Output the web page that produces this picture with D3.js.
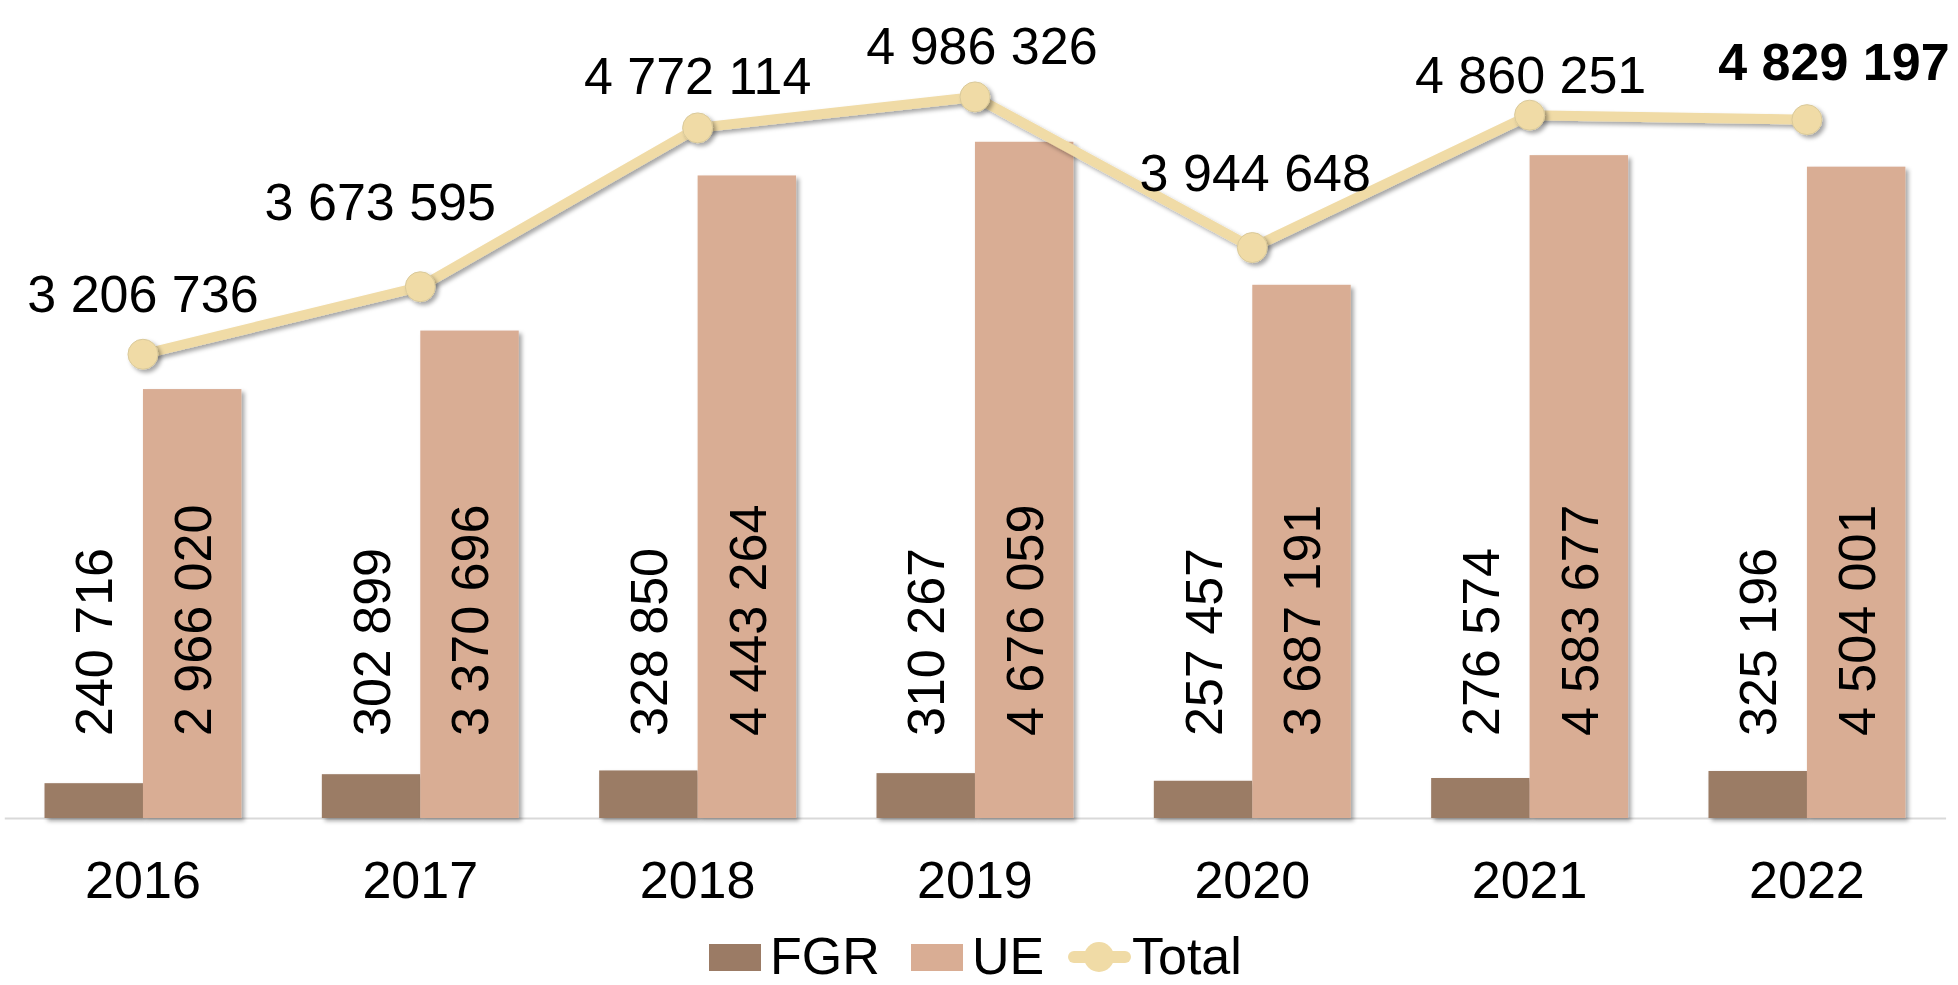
<!DOCTYPE html>
<html><head><meta charset="utf-8">
<script src="https://cdn.jsdelivr.net/npm/d3@7"></script>
<style>
html,body{margin:0;padding:0;background:#fff;}
svg{display:block;font-family:"Liberation Sans",Arial,sans-serif;}
</style>
</head><body>
<svg id="chart" width="1958" height="985"></svg>
<script>
// ---- data ----
const years = ["2016", "2017", "2018", "2019", "2020", "2021", "2022"];
const fgrValues = [240716, 302899, 328850, 310267, 257457, 276574, 325196];
const ueValues = [2966020, 3370696, 4443264, 4676059, 3687191, 4583677, 4504001];
const totalValues = [3206736, 3673595, 4772114, 4986326, 3944648, 4860251, 4829197];
const barSeries = ["FGR", "UE"];
const legendLabels = ["FGR", "UE", "Total"];

// ---- layout / styles ----
const colFGR = "#9b7b65", colUE = "#d9ad94", colTotal = "#f0dba6";
const fontSize = 52;
// manual nudges of the Total data labels (dx, gap above marker), as placed in the original
const totalLabelNudge = [[0, 42], [-40, 67], [0, 34], [7, 33], [3, 57], [1, 22], [27, 40]];

const svg = d3.select("#chart");
const defs = svg.append("defs");
const f = defs.append("filter").attr("id", "sh").attr("x", "-20%").attr("y", "-20%").attr("width", "150%").attr("height", "150%");
f.append("feDropShadow").attr("dx", 3).attr("dy", 3).attr("stdDeviation", 2).attr("flood-color", "#000").attr("flood-opacity", 0.35);

const fmt = d3.formatLocale({decimal: ",", thousands: " ", grouping: [3], currency: ["", ""]}).format(",d");

const baseY = 818;
const x = d3.scaleBand().domain(years).range([4.3, 1945.6]).paddingInner(0.29).paddingOuter(0.145);
const xs = d3.scaleBand().domain(barSeries).range([0, x.bandwidth()]);
const y = d3.scaleLinear().domain([0, 5500000]).range([baseY, baseY - 5500000 / 6915]);

const rows = years.map((yr, i) => ({year: yr, FGR: fgrValues[i], UE: ueValues[i], Total: totalValues[i]}));
const colorOf = {FGR: colFGR, UE: colUE};

// axis
const axis = svg.append("g").attr("transform", `translate(0,${baseY})`)
  .call(d3.axisBottom(x).tickSize(0).tickSizeOuter(0).tickPadding(43));
axis.select(".domain").attr("stroke", "#d9d9d9").attr("stroke-width", 2);
axis.selectAll(".tick text").attr("font-size", fontSize).attr("fill", "#000")
  .attr("font-family", '"Liberation Sans",Arial,sans-serif');

// bars
const groups = svg.append("g").selectAll("g").data(rows).join("g")
  .attr("transform", d => `translate(${x(d.year)},0)`);
groups.selectAll("rect").data(d => barSeries.map(k => ({key: k, value: d[k]}))).join("rect")
  .attr("x", d => xs(d.key))
  .attr("width", xs.bandwidth())
  .attr("y", d => y(d.value))
  .attr("height", d => y(0) - y(d.value))
  .attr("fill", d => colorOf[d.key])
  .attr("filter", "url(#sh)");

// rotated bar labels
groups.selectAll("text").data(d => barSeries.map(k => ({key: k, value: d[k]}))).join("text")
  .attr("transform", d => `translate(${xs(d.key) + xs.bandwidth() / 2},736) rotate(-90)`)
  .attr("dy", "0.36em")
  .attr("text-anchor", "start")
  .attr("font-size", fontSize)
  .attr("fill", "#000")
  .text(d => fmt(d.value));

// total line
const cx = d => x(d.year) + x.bandwidth() / 2;
const line = d3.line().x(cx).y(d => y(d.Total));
svg.append("path").datum(rows).attr("d", line)
  .attr("fill", "none").attr("stroke", colTotal).attr("stroke-width", 10)
  .attr("stroke-linejoin", "round").attr("filter", "url(#sh)");
svg.append("g").selectAll("circle").data(rows).join("circle")
  .attr("cx", cx).attr("cy", d => y(d.Total)).attr("r", 15)
  .attr("fill", colTotal).attr("stroke", "#d9c99a").attr("stroke-width", 1)
  .attr("filter", "url(#sh)");
svg.append("g").selectAll("text").data(rows).join("text")
  .attr("x", (d, i) => cx(d) + totalLabelNudge[i][0])
  .attr("y", (d, i) => y(d.Total) - totalLabelNudge[i][1])
  .attr("text-anchor", "middle")
  .attr("font-size", fontSize)
  .attr("font-weight", (d, i) => i === rows.length - 1 ? "bold" : "normal")
  .attr("fill", "#000")
  .text(d => fmt(d.Total));

// legend
const lg = svg.append("g");
const legendX = [709, 911, 1068];
const legY = 974;
legendLabels.forEach((name, i) => {
  const lx = legendX[i];
  if (name === "Total") {
    lg.append("line").attr("x1", lx + 6).attr("x2", lx + 57).attr("y1", legY - 17).attr("y2", legY - 17)
      .attr("stroke", colTotal).attr("stroke-width", 12).attr("stroke-linecap", "round");
    lg.append("circle").attr("cx", lx + 31).attr("cy", legY - 17).attr("r", 15).attr("fill", colTotal);
    lg.append("text").attr("x", lx + 64).attr("y", legY).attr("font-size", fontSize).text(name);
  } else {
    lg.append("rect").attr("x", lx).attr("y", legY - 30).attr("width", 52).attr("height", 27)
      .attr("fill", colorOf[name]);
    lg.append("text").attr("x", lx + 61).attr("y", legY).attr("font-size", fontSize).text(name);
  }
});
</script>
</body></html>
